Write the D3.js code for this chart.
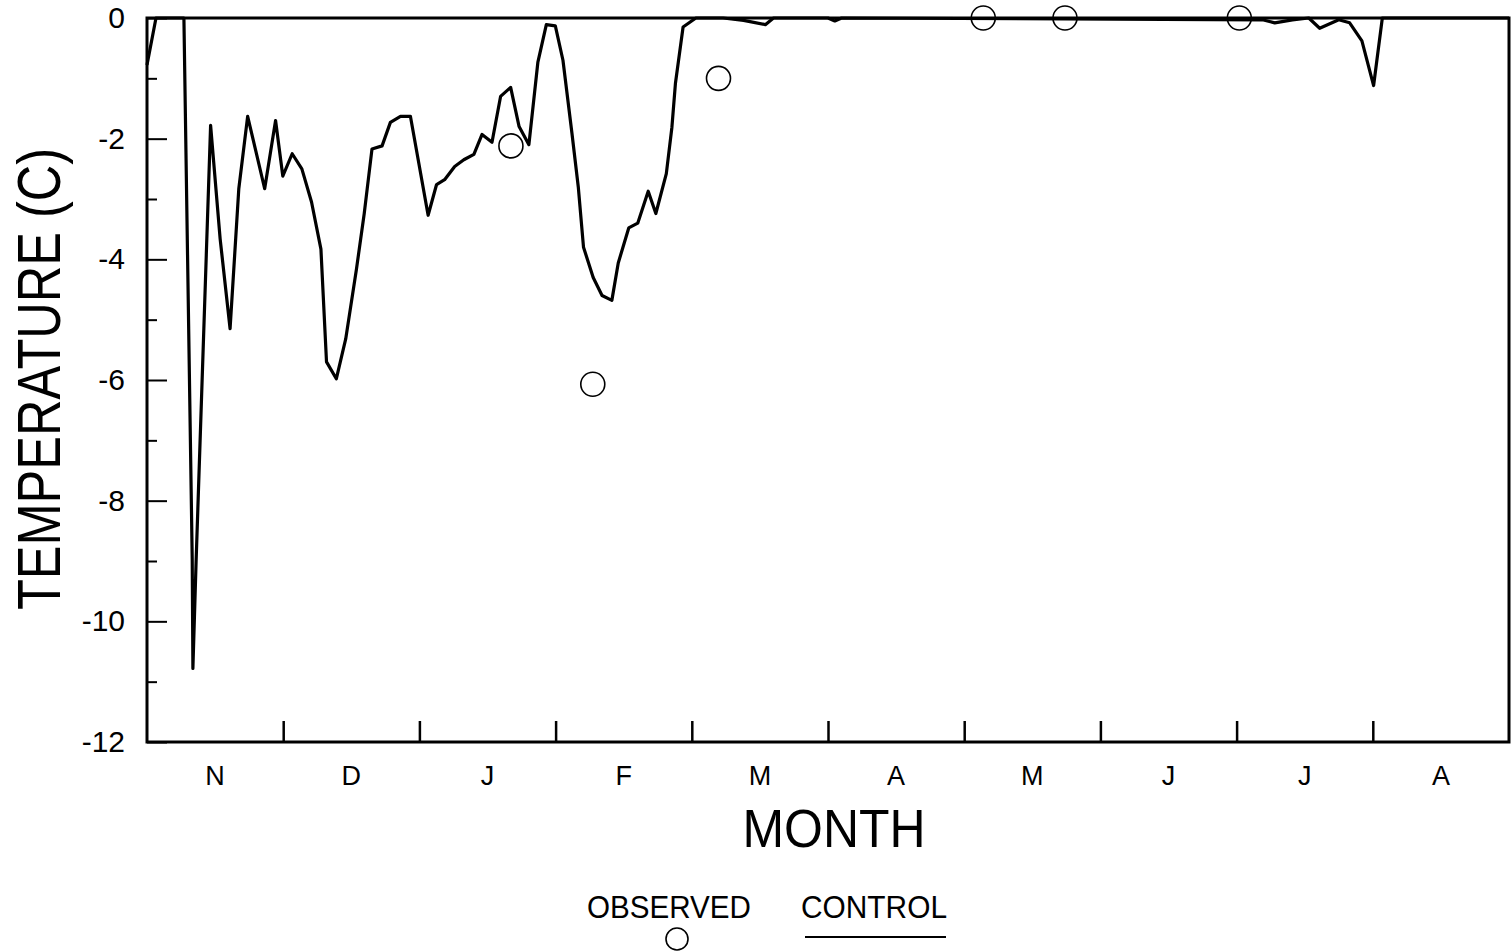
<!DOCTYPE html>
<html>
<head>
<meta charset="utf-8">
<script src="https://cdn.jsdelivr.net/npm/d3@7"></script>
<style>
  body { margin: 0; background: #fff; }
  svg { display: block; font-family: "Liberation Sans", Arial, Helvetica, sans-serif; }
</style>
</head>
<body>
<div id="graph"></div>
<script>
// --- Data (months counted from 1 Nov, temperature in C) ---
const monthLabels = ["N", "D", "J", "F", "M", "A", "M", "J", "J", "A"];
const yMajorTicks = [0, -2, -4, -6, -8, -10, -12];
const yMinorTicks = [-1, -3, -5, -7, -9, -11];

const controlMonths = [
    0, 0.066, 0.271, 0.332, 0.337, 0.361, 0.467, 0.537, 0.610, 0.674,
    0.739, 0.864, 0.944, 0.997, 1.066, 1.137, 1.208, 1.277, 1.318, 1.390,
    1.459, 1.538, 1.595, 1.652, 1.726, 1.787, 1.861, 1.934, 2.064, 2.126,
    2.185, 2.259, 2.326, 2.400, 2.460, 2.533, 2.596, 2.670, 2.732, 2.804,
    2.870, 2.932, 2.998, 3.054, 3.120, 3.167, 3.205, 3.276, 3.341, 3.413,
    3.460, 3.537, 3.603, 3.680, 3.736, 3.813, 3.854, 3.880, 3.936, 4.030,
    4.230, 4.380, 4.540, 4.600, 5.000, 5.050, 5.100, 8.190, 8.280, 8.410,
    8.530, 8.610, 8.750, 8.830, 8.920, 9.006, 9.070, 10
];
const controlTemps = [
    -0.78, 0, 0, -8.97, -10.78, -8.97, -1.78, -3.66, -5.15, -2.83,
    -1.63, -2.83, -1.70, -2.62, -2.25, -2.50, -3.05, -3.83, -5.70, -5.98,
    -5.32, -4.16, -3.24, -2.17, -2.12, -1.73, -1.63, -1.63, -3.27, -2.76,
    -2.68, -2.46, -2.35, -2.26, -1.93, -2.06, -1.30, -1.15, -1.80, -2.10,
    -0.73, -0.11, -0.13, -0.70, -1.91, -2.81, -3.80, -4.30, -4.60, -4.68,
    -4.06, -3.48, -3.40, -2.87, -3.24, -2.58, -1.81, -1.08, -0.15, 0,
    0, -0.04, -0.11, 0, 0, -0.05, 0, -0.03, -0.08, -0.03,
    0, -0.17, -0.03, -0.08, -0.38, -1.12, 0, 0
];

const observedMonths = [2.672, 3.273, 4.196, 6.14, 6.74, 8.02];
const observedTemps = [-2.12, -6.07, -1.00, 0, 0, 0];

// --- Layout ---
const width = 1511, height = 952;
const plot = { left: 147, right: 1509, top: 18, bottom: 742 };

const svg = d3.select("#graph")
    .append("svg")
    .attr("width", width)
    .attr("height", height);

const x = d3.scaleLinear()
    .domain([0, monthLabels.length])
    .range([plot.left, plot.right]);

const y = d3.scaleLinear()
    .domain([-12, 0])
    .range([plot.bottom, plot.top]);

// frame
svg.append("rect")
    .attr("x", plot.left)
    .attr("y", plot.top)
    .attr("width", plot.right - plot.left)
    .attr("height", plot.bottom - plot.top)
    .attr("fill", "none")
    .attr("stroke", "#000")
    .attr("stroke-width", 3);

// y axis: major ticks with labels, minor ticks without
const yAxis = svg.append("g")
    .attr("transform", `translate(${plot.left},0)`)
    .call(d3.axisLeft(y).tickValues(yMajorTicks).tickSize(-20).tickPadding(22).tickFormat(d => String(d)));
yAxis.select(".domain").remove();
yAxis.selectAll("line").attr("stroke-width", 2);
yAxis.selectAll("text")
    .attr("font-size", 30)
    .attr("fill", "#000")
    .attr("font-family", "'Liberation Sans', Arial, sans-serif");

const yMinor = svg.append("g")
    .attr("transform", `translate(${plot.left},0)`)
    .call(d3.axisLeft(y).tickValues(yMinorTicks).tickSize(-10).tickFormat(""));
yMinor.select(".domain").remove();
yMinor.selectAll("line").attr("stroke-width", 2);

// x axis: month boundary ticks pointing up
const xAxis = svg.append("g")
    .attr("transform", `translate(0,${plot.bottom})`)
    .call(d3.axisBottom(x).tickValues(d3.range(1, monthLabels.length)).tickSize(-21).tickFormat(""));
xAxis.select(".domain").remove();
xAxis.selectAll("line").attr("stroke-width", 2.5);

// month labels centred in each month
svg.append("g")
    .selectAll("text")
    .data(monthLabels)
    .join("text")
    .attr("x", (d, i) => x(i + 0.5))
    .attr("y", 785)
    .attr("text-anchor", "middle")
    .attr("font-size", 27)
    .text(d => d);

// axis titles
svg.append("text")
    .attr("transform", "translate(60,379) rotate(-90)")
    .attr("text-anchor", "middle")
    .attr("font-size", 62)
    .attr("textLength", 462)
    .attr("lengthAdjust", "spacingAndGlyphs")
    .text("TEMPERATURE (C)");

svg.append("text")
    .attr("x", 834)
    .attr("y", 847)
    .attr("text-anchor", "middle")
    .attr("font-size", 54)
    .attr("textLength", 183)
    .attr("lengthAdjust", "spacingAndGlyphs")
    .text("MONTH");

// control line
const control = controlMonths.map((m, i) => ({ m: m, t: controlTemps[i] }));
const line = d3.line()
    .x(d => x(d.m))
    .y(d => y(d.t));

svg.append("path")
    .datum(control)
    .attr("fill", "none")
    .attr("stroke", "#000")
    .attr("stroke-width", 3.2)
    .attr("stroke-linejoin", "round")
    .attr("d", line);

// observed circles
const observed = observedMonths.map((m, i) => ({ m: m, t: observedTemps[i] }));
svg.append("g")
    .selectAll("circle")
    .data(observed)
    .join("circle")
    .attr("cx", d => x(d.m))
    .attr("cy", d => y(d.t))
    .attr("r", 12)
    .attr("fill", "none")
    .attr("stroke", "#000")
    .attr("stroke-width", 1.6);

// legend
const legend = svg.append("g");
legend.append("text")
    .attr("x", 669)
    .attr("y", 918)
    .attr("text-anchor", "middle")
    .attr("font-size", 31)
    .attr("textLength", 164)
    .attr("lengthAdjust", "spacingAndGlyphs")
    .text("OBSERVED");
legend.append("circle")
    .attr("cx", 677)
    .attr("cy", 939)
    .attr("r", 11)
    .attr("fill", "none")
    .attr("stroke", "#000")
    .attr("stroke-width", 1.6);
legend.append("text")
    .attr("x", 874)
    .attr("y", 918)
    .attr("text-anchor", "middle")
    .attr("font-size", 31)
    .attr("textLength", 146)
    .attr("lengthAdjust", "spacingAndGlyphs")
    .text("CONTROL");
legend.append("line")
    .attr("x1", 805)
    .attr("x2", 946)
    .attr("y1", 937)
    .attr("y2", 937)
    .attr("stroke", "#000")
    .attr("stroke-width", 2);
</script>
</body>
</html>
